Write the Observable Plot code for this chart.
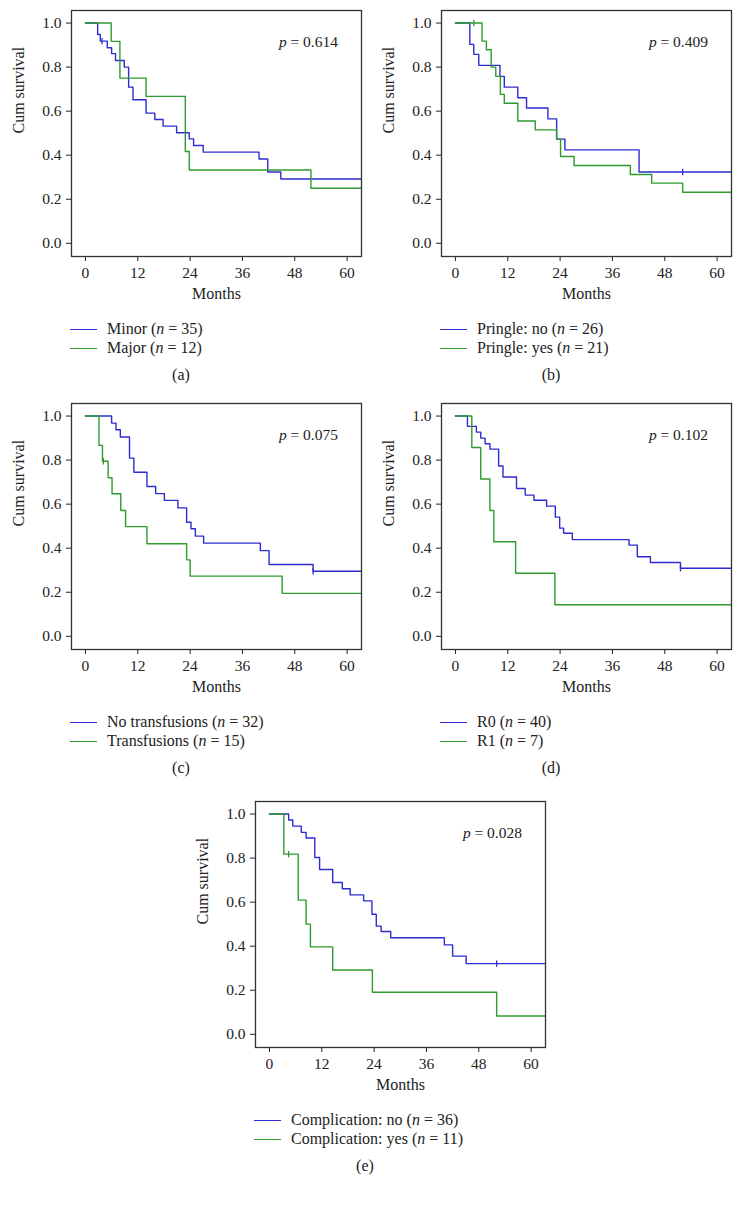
<!DOCTYPE html>
<html>
<head>
<meta charset="utf-8">
<script src="https://cdn.jsdelivr.net/npm/d3@7"></script>
<script src="https://cdn.jsdelivr.net/npm/@observablehq/plot@0.6"></script>
<style>
  html, body { margin: 0; padding: 0; background: #fff; }
  #page { position: relative; width: 742px; height: 1206px; background: #fff; font-family: "Liberation Serif", "DejaVu Serif", serif; color: #222; }
  .block { position: absolute; width: 370px; height: 400px; }
  .block svg { position: absolute; left: 0; top: 0; }
  .pval { position: absolute; font-size: 15.5px; line-height: 18px; white-space: nowrap; }
  .leg { position: absolute; font-size: 16px; line-height: 18px; white-space: nowrap; }
  .leg .sw { position: absolute; left: 0; top: 9px; width: 27px; height: 0; border-top: 1.5px solid; }
  .leg .tx { position: absolute; left: 37px; top: 0; }
  .cap { position: absolute; font-size: 16px; line-height: 18px; width: 60px; text-align: center; }
</style>
</head>
<body>
<div id="page"></div>
<script>
// ---------- data ----------
const xTicks = [0, 12, 24, 36, 48, 60];
const yTicks = [0, 0.2, 0.4, 0.6, 0.8, 1.0];
const panelIds = ["a", "b", "c", "d", "e"];
const panelCaptions = ["(a)", "(b)", "(c)", "(d)", "(e)"];
const pValues = ["0.614", "0.409", "0.075", "0.102", "0.028"];
const blueNames = ["Minor", "Pringle: no", "No transfusions", "R0", "Complication: no"];
const blueN = [35, 26, 32, 40, 36];
const greenNames = ["Major", "Pringle: yes", "Transfusions", "R1", "Complication: yes"];
const greenN = [12, 21, 15, 7, 11];

// (a) extent of hepatectomy
const aBlueT = [2.8, 3.4, 5.0, 6.0, 6.9, 8.9, 9.9, 10.9, 13.9, 15.9, 17.8, 20.9, 23.8, 24.8, 27.0, 39.8, 41.8, 44.8];
const aBlueS = [0.948, 0.918, 0.888, 0.861, 0.830, 0.800, 0.709, 0.652, 0.591, 0.562, 0.532, 0.502, 0.474, 0.444, 0.414, 0.383, 0.324, 0.292];
const aBlueCensT = [3.8];
const aBlueCensS = [0.918];
const aGreenT = [5.9, 7.9, 13.9, 22.9, 23.8, 51.7];
const aGreenS = [0.917, 0.750, 0.667, 0.417, 0.333, 0.250];
const aGreenCensT = [];
const aGreenCensS = [];

// (b) Pringle manoeuvre
const bBlueT = [3.3, 4.2, 5.35, 10.2, 11.2, 14.3, 16.3, 21.2, 23.2, 25.1, 42.1];
const bBlueS = [0.903, 0.858, 0.808, 0.758, 0.709, 0.661, 0.614, 0.565, 0.473, 0.424, 0.324];
const bBlueCensT = [52.1];
const bBlueCensS = [0.324];
const bGreenT = [6.1, 7.1, 8.2, 9.25, 10.3, 11.2, 14.3, 18.3, 23.2, 24.1, 27.2, 40.1, 45.0, 52.1];
const bGreenS = [0.918, 0.879, 0.800, 0.758, 0.676, 0.636, 0.555, 0.515, 0.473, 0.394, 0.353, 0.312, 0.273, 0.232];
const bGreenCensT = [4.2];
const bGreenCensS = [1.0];

// (c) transfusions
const cBlueT = [6.0, 7.0, 8.0, 10.1, 11.1, 14.1, 16.1, 18.1, 21.2, 23.2, 24.2, 25.2, 27.1, 40.1, 42.1, 52.2];
const cBlueS = [0.968, 0.938, 0.905, 0.809, 0.745, 0.680, 0.648, 0.617, 0.583, 0.518, 0.488, 0.455, 0.423, 0.389, 0.326, 0.295];
const cBlueCensT = [52.2];
const cBlueCensS = [0.295];
const cGreenT = [3.1, 3.9, 5.2, 6.1, 8.1, 9.2, 14.1, 23.2, 24.0, 45.1];
const cGreenS = [0.867, 0.795, 0.720, 0.647, 0.571, 0.498, 0.420, 0.347, 0.273, 0.195];
const cGreenCensT = [4.1];
const cGreenCensS = [0.795];

// (d) resection margin
const dBlueT = [2.75, 4.8, 5.8, 6.8, 7.9, 9.9, 10.9, 14.0, 16.0, 18.0, 20.9, 22.9, 23.9, 24.8, 26.8, 39.8, 41.7, 44.7, 51.6];
const dBlueS = [0.953, 0.927, 0.900, 0.874, 0.850, 0.773, 0.723, 0.671, 0.641, 0.618, 0.591, 0.541, 0.491, 0.468, 0.439, 0.414, 0.361, 0.335, 0.309];
const dBlueCensT = [51.6];
const dBlueCensS = [0.309];
const dGreenT = [3.75, 5.8, 7.9, 8.8, 13.8, 22.8];
const dGreenS = [0.857, 0.714, 0.571, 0.429, 0.286, 0.143];
const dGreenCensT = [];
const dGreenCensS = [];

// (e) complications
const eBlueT = [4.4, 5.35, 7.3, 8.4, 10.4, 11.5, 14.5, 16.7, 18.5, 21.6, 23.5, 24.5, 25.6, 27.8, 40.1, 42.0, 45.1];
const eBlueS = [0.973, 0.945, 0.917, 0.891, 0.803, 0.748, 0.689, 0.661, 0.633, 0.606, 0.545, 0.491, 0.467, 0.438, 0.406, 0.355, 0.321];
const eBlueCensT = [52.1];
const eBlueCensS = [0.321];
const eGreenT = [3.3, 6.6, 8.4, 9.4, 14.5, 23.6, 52.1];
const eGreenS = [0.818, 0.609, 0.500, 0.397, 0.292, 0.191, 0.083];
const eGreenCensT = [4.4];
const eGreenCensS = [0.818];

// ---------- layout / style ----------
const BLUE = "#2d2dd2";
const GREEN = "#2e9b2e";
const X_DOMAIN = [-3.2, 63.3];
const Y_DOMAIN = [-0.06, 1.057];
const blockPos = [[0, 0], [370, 0], [0, 393], [370, 393], [184, 791]];

const series = {
  a: [aBlueT, aBlueS, aBlueCensT, aBlueCensS, aGreenT, aGreenS, aGreenCensT, aGreenCensS],
  b: [bBlueT, bBlueS, bBlueCensT, bBlueCensS, bGreenT, bGreenS, bGreenCensT, bGreenCensS],
  c: [cBlueT, cBlueS, cBlueCensT, cBlueCensS, cGreenT, cGreenS, cGreenCensT, cGreenCensS],
  d: [dBlueT, dBlueS, dBlueCensT, dBlueCensS, dGreenT, dGreenS, dGreenCensT, dGreenCensS],
  e: [eBlueT, eBlueS, eBlueCensT, eBlueCensS, eGreenT, eGreenS, eGreenCensT, eGreenCensS]
};

function kmPoints(t, s) {
  const pts = [{x: 0, y: 1}];
  t.forEach((ti, i) => pts.push({x: ti, y: s[i]}));
  pts.push({x: X_DOMAIN[1], y: s.length ? s[s.length - 1] : 1});
  return pts;
}
function censPoints(t, s) { return t.map((ti, i) => ({x: ti, y: s[i]})); }

const tickSymbol = {
  draw(context, size) {
    const r = Math.sqrt(size / Math.PI);
    context.moveTo(0, -r);
    context.lineTo(0, r);
  }
};

const page = document.getElementById("page");

panelIds.forEach((id, k) => {
  const [bt, bs, bct, bcs, gt, gs, gct, gcs] = series[id];
  const chart = Plot.plot({
    width: 370,
    height: 310,
    marginLeft: 71,
    marginRight: 9,
    marginTop: 10,
    marginBottom: 54,
    style: {fontFamily: "'Liberation Serif', 'DejaVu Serif', serif", fontSize: "15.5px", color: "#222", background: "transparent", overflow: "visible"},
    x: {domain: X_DOMAIN, ticks: xTicks, tickSize: 5, tickPadding: 5, label: null},
    y: {domain: Y_DOMAIN, ticks: yTicks, tickFormat: d3.format(".1f"), tickSize: 5, tickPadding: 5, label: null},
    marks: [
      Plot.line(kmPoints(bt, bs), {x: "x", y: "y", curve: "step-after", stroke: BLUE, strokeWidth: 1.4, clip: true}),
      Plot.line(kmPoints(gt, gs), {x: "x", y: "y", curve: "step-after", stroke: GREEN, strokeWidth: 1.4, clip: true}),
      Plot.dot(censPoints(bct, bcs), {x: "x", y: "y", symbol: tickSymbol, r: 3.2, fill: "none", stroke: BLUE, strokeWidth: 1.3}),
      Plot.dot(censPoints(gct, gcs), {x: "x", y: "y", symbol: tickSymbol, r: 3.2, fill: "none", stroke: GREEN, strokeWidth: 1.3}),
      Plot.frame({stroke: "#333", strokeWidth: 1.3}),
      Plot.text(["Cum survival"], {frameAnchor: "left", rotate: -90, dx: -53, fontSize: 16, fill: "#222"}),
      Plot.text(["Months"], {frameAnchor: "bottom", dy: 42, fontSize: 16, fill: "#222"})
    ]
  });

  const block = document.createElement("div");
  block.className = "block";
  block.style.left = blockPos[k][0] + "px";
  block.style.top = blockPos[k][1] + "px";
  block.appendChild(chart);

  const pv = document.createElement("div");
  pv.className = "pval";
  pv.style.right = (370 - 338) + "px";
  pv.style.top = "33px";
  pv.innerHTML = "<i>p</i> = " + pValues[k];
  block.appendChild(pv);

  [[BLUE, blueNames[k], blueN[k], 320], [GREEN, greenNames[k], greenN[k], 339]].forEach(([col, name, n, top]) => {
    const row = document.createElement("div");
    row.className = "leg";
    row.style.left = "70px";
    row.style.top = top + "px";
    row.innerHTML = `<span class="sw" style="border-color:${col}"></span><span class="tx">${name} (<i>n</i> = ${n})</span>`;
    block.appendChild(row);
  });

  const cap = document.createElement("div");
  cap.className = "cap";
  cap.style.left = (181 - 30) + "px";
  cap.style.top = "366px";
  cap.textContent = panelCaptions[k];
  block.appendChild(cap);

  page.appendChild(block);
});
</script>
</body>
</html>
